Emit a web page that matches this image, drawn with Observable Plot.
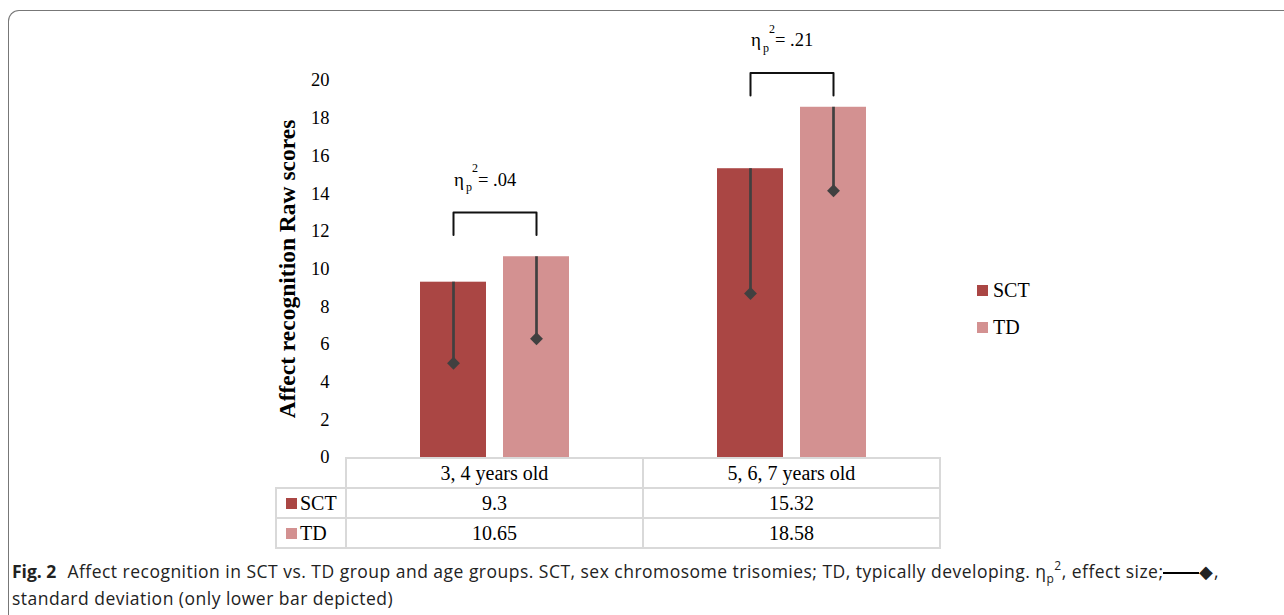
<!DOCTYPE html>
<html><head><meta charset="utf-8">
<script src="https://cdn.jsdelivr.net/npm/d3@7"></script>
<script src="https://cdn.jsdelivr.net/npm/@observablehq/plot@0.6"></script>
<style>
html,body{margin:0;padding:0;background:#fff}
body{width:1284px;height:615px;overflow:hidden;position:relative;font-family:"Liberation Serif",serif}
#card{position:absolute;left:8px;top:10px;width:1400px;height:700px;border-left:1.5px solid #777;border-top:1.5px solid #777;border-top-left-radius:11px;box-sizing:border-box}
#chart{position:absolute;left:0;top:0}
#dt{position:absolute;left:275px;top:457px;border-collapse:collapse;font-size:20px;color:#000;table-layout:fixed}
#dt td{border:2px solid #d9d9d9;height:28px;padding:0;text-align:center;line-height:28px}
#dt td.blank{border:none}
#dt td.lab{text-align:left;padding-left:9px;white-space:nowrap}
.sw{display:inline-block;width:11px;height:11px;margin-right:3px;vertical-align:1px}
#legend{position:absolute;left:977px;top:272px;font-size:20px;line-height:37px}
#legend .sw{margin-right:5px}
#caption{position:absolute;left:12px;top:559px;font-family:"Open Sans",sans-serif;font-size:17.5px;letter-spacing:0.48px;color:#222;line-height:25px;white-space:nowrap}
#caption b{font-weight:bold;margin-right:6px;letter-spacing:0}
#caption sub,#caption sup{font-size:12px;vertical-align:baseline;position:relative}
#caption sub{top:5px}
#caption sup{top:-8px}
.dl{display:inline-block;width:36px;height:2px;background:#000;vertical-align:middle}
</style></head>
<body>
<div id="card"></div>
<div id="chart"></div>
<table id="dt"></table>
<div id="legend"></div>
<div id="caption"><b>Fig. 2</b> Affect recognition in SCT vs. TD group and age groups. SCT, sex chromosome trisomies; TD, typically developing. η<sub>p</sub><sup>2</sup>, effect size;<span class="dl"></span>◆,<br>standard deviation (only lower bar depicted)</div>
<script>
const groups = ["3, 4 years old", "5, 6, 7 years old"];
const series = ["SCT", "TD"];
const sctMeans = [9.3, 15.32];
const tdMeans = [10.65, 18.58];
const sctLower = [5.0, 8.7];
const tdLower = [6.3, 14.15];
const effectSizes = [".04", ".21"];
const bracketLevels = [13, 20.4];
const yTicks = [0, 2, 4, 6, 8, 10, 12, 14, 16, 18, 20];
const colors = ["#AA4644", "#D39191"];
const yTitle = "Affect recognition Raw scores";

const rows = groups.flatMap((g, i) => [
  {group: g, series: "SCT", mean: sctMeans[i], lower: sctLower[i]},
  {group: g, series: "TD", mean: tdMeans[i], lower: tdLower[i]}
]);
const bracketDrop = 1.2;
const brackets = groups.flatMap((g, i) => [
  {group: g, series: "SCT", y: bracketLevels[i] - bracketDrop, k: i},
  {group: g, series: "SCT", y: bracketLevels[i], k: i},
  {group: g, series: "TD", y: bracketLevels[i], k: i},
  {group: g, series: "TD", y: bracketLevels[i] - bracketDrop, k: i}
]);
const labels = groups.map((g, i) => ({group: g, y: bracketLevels[i], es: effectSizes[i]}));

const plot = Plot.plot({
  width: 1284, height: 470,
  marginLeft: 345, marginRight: 344, marginTop: 80, marginBottom: 13,
  style: {fontFamily: "Liberation Serif", fontSize: "18.5px", color: "#000", background: "transparent", overflow: "visible"},
  fx: {domain: groups, padding: 0, axis: null, label: null},
  x: {domain: series, paddingInner: 0.21, paddingOuter: 0.88, axis: null},
  y: {domain: [0, 20], ticks: yTicks, tickSize: 0, tickPadding: 17, label: null, tickFormat: d => String(d)},
  color: {domain: series, range: colors},
  marks: [
    Plot.barY(rows, {fx: "group", x: "series", y: "mean", fill: "series"}),
    Plot.ruleX(rows, {fx: "group", x: "series", y1: "lower", y2: "mean", stroke: "#404040", strokeWidth: 2.7}),
    Plot.dot(rows, {fx: "group", x: "series", y: "lower", symbol: "diamond2", r: 5.8, fill: "#404040", stroke: "none"}),
    Plot.line(brackets, {fx: "group", x: "series", y: "y", z: "k", stroke: "#111", strokeWidth: 2, strokeLinejoin: "round"}),
    Plot.text(labels, {fx: "group", y: "y", text: () => "η", textAnchor: "start", dx: -41, dy: -33, fontSize: 19}),
    Plot.text(labels, {fx: "group", y: "y", text: () => "p", textAnchor: "start", dx: -29, dy: -25, fontSize: 12}),
    Plot.text(labels, {fx: "group", y: "y", text: () => "2", textAnchor: "start", dx: -23, dy: -44, fontSize: 12}),
    Plot.text(labels, {fx: "group", y: "y", text: d => "= " + d.es, textAnchor: "start", dx: -17, dy: -32.5, fontSize: 18.5}),
    Plot.text([groups[0]], {fx: d => d, frameAnchor: "left", textAnchor: "middle", rotate: -90, text: () => yTitle, dx: -59, fontWeight: "bold", fontSize: 23.5})
  ]
});
document.getElementById("chart").appendChild(plot);

// data table under the axis
const fx = plot.scale("fx");
const colW = fx.bandwidth;
const t = document.getElementById("dt");
let html = `<colgroup><col style="width:70px">${groups.map(() => `<col style="width:${colW}px">`).join("")}</colgroup>`;
html += `<tr><td class="blank"></td>${groups.map(g => `<td>${g}</td>`).join("")}</tr>`;
const vals = {SCT: sctMeans, TD: tdMeans};
series.forEach((s, si) => {
  html += `<tr><td class="lab"><span class="sw" style="background:${colors[si]}"></span>${s}</td>${vals[s].map(v => `<td>${v}</td>`).join("")}</tr>`;
});
t.innerHTML = html;

document.getElementById("legend").innerHTML = series.map((s, si) =>
  `<div><span class="sw" style="background:${colors[si]}"></span>${s}</div>`).join("");
</script>
</body></html>
